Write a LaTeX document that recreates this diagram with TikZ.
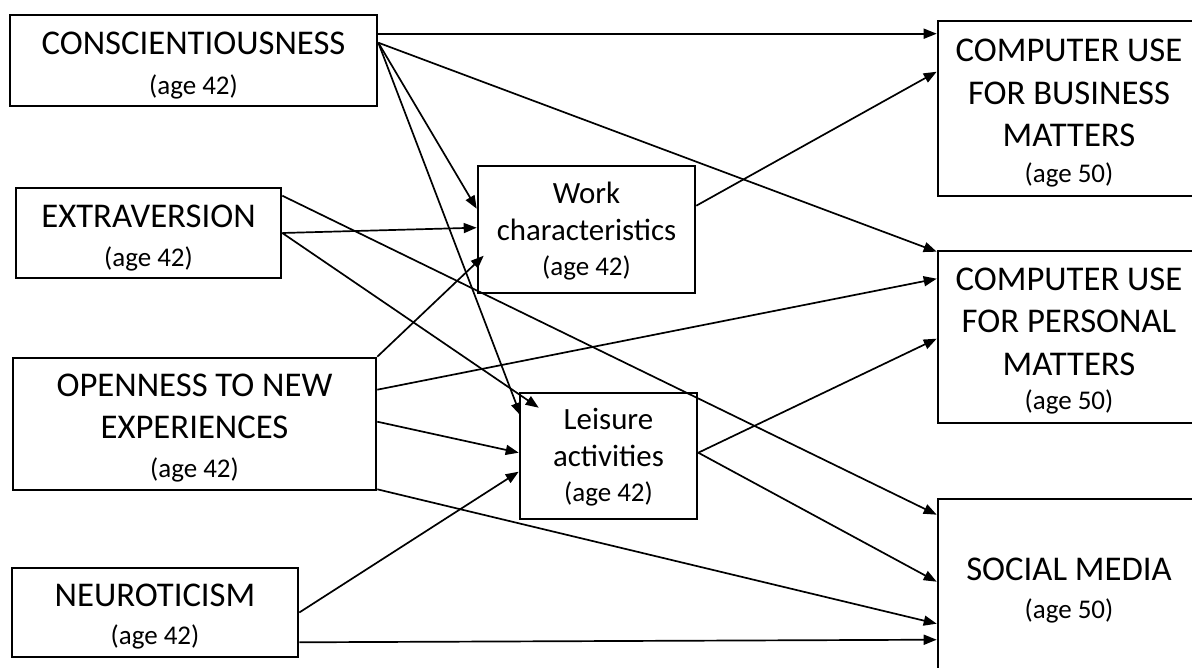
\documentclass[tikz,border=0pt]{standalone}
\usepackage{fontspec}
\setmainfont{Carlito}
\usetikzlibrary{arrows.meta}
\newcommand{\bigtxt}{\fontsize{34.7}{42.3}\selectfont}
\newcommand{\midtxt}{\fontsize{30.9}{37}\selectfont}
\newcommand{\agetxt}{\fontsize{27}{33}\selectfont}
\tikzset{
  frame/.style={draw=black, line width=2.6pt, fill=white, inner sep=0pt},
  txt/.style={inner sep=0pt, align=center, text=black, font=\bigtxt},
  midtxtnode/.style={txt, font=\midtxt},
  conn/.style={draw=black, line width=1.7pt, -{Triangle[length=13pt,width=10pt]}},
}
\begin{document}
\begin{tikzpicture}[x=1pt,y=-1pt]
\useasboundingbox (0,0) rectangle (1192,668);
\fill[white] (0,0) rectangle (1192,668);
\clip (0,0) rectangle (1192,668);

% frames
\node[frame, minimum width=367pt, minimum height=91pt] (cons) at (193.5,60.5) {};
\node[frame, minimum width=265pt, minimum height=90pt] (extra) at (148.5,233) {};
\node[frame, minimum width=363pt, minimum height=132pt] (open) at (194.5,424) {};
\node[frame, minimum width=286pt, minimum height=89pt] (neuro) at (155,612.5) {};
\node[frame, minimum width=217pt, minimum height=127pt] (work) at (586.5,229.5) {};
\node[frame, minimum width=177pt, minimum height=126pt] (leis) at (608.5,456) {};
\node[frame, minimum width=262pt, minimum height=175pt] (bus) at (1069,108.5) {};
\node[frame, minimum width=262pt, minimum height=172pt] (pers) at (1069,337) {};
\node[frame, minimum width=262pt, minimum height=173pt] (soc) at (1069,585.5) {};

% texts
\node[txt] (consT) at ([yshift=-5pt]cons.center)
  {CONSCIENTIOUSNESS\\[-2pt]\agetxt (age 42)};
\node[txt] (extraT) at ([yshift=-5pt]extra.center)
  {EXTRAVERSION\\[-4pt]\agetxt (age 42)};
\node[txt] (openT) at ([yshift=-4pt]open.center)
  {OPENNESS TO NEW\\EXPERIENCES\\[-4pt]\agetxt (age 42)};
\node[txt] (neuroT) at ([yshift=-4pt]neuro.center)
  {NEUROTICISM\\[-4pt]\agetxt (age 42)};
\node[midtxtnode] (workT) at ([yshift=-2pt]work.center)
  {Work\\characteristics\\[-2pt]\agetxt (age 42)};
\node[midtxtnode] (leisT) at ([yshift=-1pt]leis.center)
  {Leisure\\activities\\[-2pt]\agetxt (age 42)};
\node[txt] (busT) at ([yshift=-5pt]bus.center)
  {COMPUTER USE\\FOR BUSINESS\\MATTERS\\[-6pt]\agetxt (age 50)};
\node[txt] (persT) at ([yshift=-4pt]pers.center)
  {COMPUTER USE\\FOR PERSONAL\\MATTERS\\[-8pt]\agetxt (age 50)};
\node[txt] (socT) at ([yshift=-5pt]soc.center)
  {SOCIAL MEDIA\\[-4pt]\agetxt (age 50)};

% connectors
\draw[conn] ([yshift=-20pt]cons.north east) -- ([yshift=-14pt]bus.north west);
\draw[conn] ([yshift=-29pt]cons.north east) -- ([yshift=-2pt]pers.north west);
\draw[conn] ([yshift=-29pt]cons.north east) -- ([yshift=-44pt]work.north west);
\draw[conn] ([yshift=-29pt]cons.north east) -- ([xshift=2pt,yshift=-24pt]leis.north west);

\draw[conn] ([yshift=-9pt]extra.north east) -- ([yshift=-17pt]soc.north west);
\draw[conn] (extra.east) -- ([yshift=-63pt]work.north west);
\draw[conn] (extra.east) -- ([xshift=20pt,yshift=-16pt]leis.north west);

\draw[conn] (open.north east) -- ([xshift=7pt,yshift=-91pt]work.north west);
\draw[conn] ([yshift=-33pt]open.north east) -- ([yshift=-29pt]pers.north west);
\draw[conn] ([yshift=-65pt]open.north east) -- ([yshift=-61pt]leis.north west);
\draw[conn] ([yshift=2pt]open.south east) -- ([yshift=-126pt]soc.north west);

\draw[conn] (neuro.east) -- ([yshift=-80pt]leis.north west);
\draw[conn] ([yshift=16pt]neuro.south east) -- ([yshift=-142pt]soc.north west);

\draw[conn] ([yshift=-41pt]work.north east) -- ([yshift=-52pt]bus.north west);
\draw[conn] ([yshift=-61pt]leis.north east) -- ([yshift=-89pt]pers.north west);
\draw[conn] ([yshift=-61pt]leis.north east) -- ([yshift=-84pt]soc.north west);
\end{tikzpicture}
\end{document}
